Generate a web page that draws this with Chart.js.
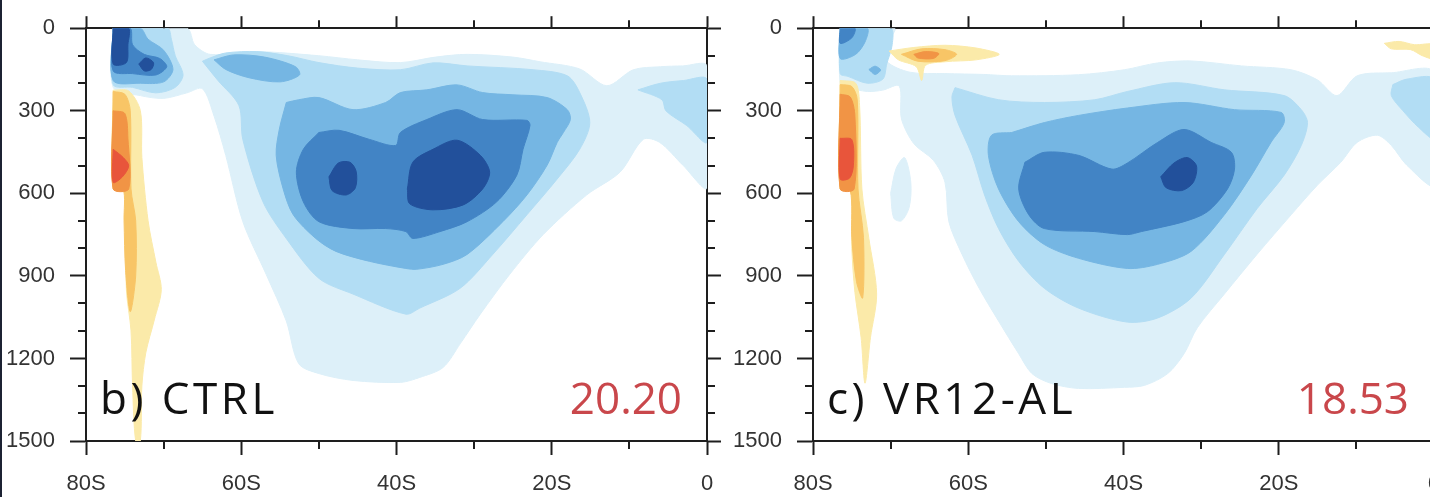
<!DOCTYPE html>
<html>
<head>
<meta charset="utf-8">
<script src="https://cdn.jsdelivr.net/npm/chart.js@4.4.0/dist/chart.umd.min.js"></script>
<style>
  html, body { margin: 0; padding: 0; background: #fff; width: 1430px; height: 497px; overflow: hidden; position: relative; }
  canvas { position: absolute; top: 0; }
  #edge { position: absolute; left: 0; top: 0; width: 2px; height: 497px; background: #1c2233; }
</style>
</head>
<body>
<canvas id="ctrl" width="760" height="497" style="left:0"></canvas>
<canvas id="vr" width="760" height="497" style="left:727px"></canvas>
<div id="edge"></div>
<script>
"use strict";

// axes
const latTicks = [-80, -60, -40, -20, 0];
const depthTicks = [0, 300, 600, 900, 1200, 1500];

// contour level colours, light to dark
const levelColors = {
    b1: "#ddf0f9", b2: "#b2ddf4", b3: "#75b6e3", b4: "#4284c5", b5: "#22509b",
    y1: "#fbeaa9", y2: "#f8c566", o1: "#f19445", r1: "#e8553b"
};

// ---- panel b) CTRL : contour outlines as [lat, depth] ----
const ctrlB1 = [[-76.5,0],[-67,0],[-66,60],[-64,95],[-58,85],[-50,100],[-45,115],[-39.5,125],[-35,105],[-30.9,95],
    [-25,105],[-21.5,122],[-16.4,148],[-12.9,209],[-9.5,151],[-6,140],[-3.1,137],[0,137],[0,580],[-3.1,498],
    [-6.1,415],[-8.2,404],[-11.2,523],[-15.5,606],[-21.1,750],[-25.4,894],[-29.2,1039],[-31.8,1147],[-34,1233],
    [-37,1269],[-39.5,1287],[-45.6,1280],[-50,1255],[-52.6,1219],[-54.2,1064],[-56.8,894],[-59.8,703],[-62,462],
    [-63.5,320],[-65,220],[-67,235],[-70,255],[-73,245],[-76.5,215]];
const ctrlB2Cluster = [[-76.5,0],[-69.5,0],[-69,40],[-68.5,100],[-67.5,170],[-68.5,215],[-71,235],[-74,215],[-76.5,205]];
const ctrlB2Main = [[-65,120],[-64,108],[-62,90],[-58,85],[-54,100],[-50,125],[-45,145],[-39.5,151],[-35.3,126],
    [-30.9,137],[-22.4,151],[-18,173],[-16.4,234],[-15.1,343],[-16.4,440],[-19.3,548],[-23.2,678],[-27.6,822],
    [-31.8,945],[-37,1017],[-38.8,1039],[-45.6,966],[-50,909],[-54.2,764],[-57.2,631],[-59.8,404],[-60.3,281],[-63,190]];
const ctrlB2East = [[-8.9,224],[-6,200],[-3,190],[0,185],[0,415],[-2.6,354],[-5.3,300],[-5.8,260]];
const ctrlB3Cluster = [[-76.5,0],[-73,0],[-72,40],[-70,80],[-68.8,150],[-70,195],[-73,200],[-76.5,190]];
const ctrlB3Streak = [[-63.5,115],[-61,97],[-57,105],[-53,140],[-52.5,170],[-55,195],[-59,180],[-62,150]];
const ctrlB3Main = [[-54.2,270],[-55.1,368],[-55.5,462],[-54.6,584],[-53.3,678],[-50.4,764],[-47.8,811],[-43.5,847],
    [-38.8,873],[-37.4,876],[-34,858],[-30.9,822],[-26.3,703],[-23.2,606],[-20.6,498],[-19.3,415],[-18.5,379],
    [-17.6,332],[-18,296],[-20.6,252],[-25,242],[-28.9,234],[-32.2,206],[-36.1,224],[-39.5,234],[-41.4,270],
    [-45.6,296],[-50,252],[-52.6,260]];
const ctrlB4Cluster = [[-76.5,0],[-74.3,0],[-74,60],[-72.5,95],[-70.5,110],[-69.6,140],[-71,170],[-74,165],[-76.5,155]];
const ctrlB4Main = [[-50,379],[-52,440],[-52.9,523],[-52,631],[-50,703],[-45.6,728],[-41.4,728],[-38.8,739],[-37.9,764],
    [-34.4,739],[-30.9,703],[-27.1,631],[-24.5,534],[-23.7,440],[-22.8,353],[-23.2,335],[-28.9,332],[-32.2,296],
    [-36.1,332],[-39.5,379],[-40.1,426],[-43.5,404],[-47.4,371]];
const ctrlB5Column = [[-76.5,0],[-74.5,0],[-74.6,60],[-74.8,125],[-76.5,130]];
const ctrlB5Dot = [[-73.2,130],[-72.3,108],[-71.3,125],[-71.6,150],[-72.5,155]];
const ctrlB5West = [[-48.7,540],[-47.5,490],[-46,487],[-45.2,520],[-45.3,580],[-46.5,606],[-48.3,590]];
const ctrlB5Core = [[-38.6,584],[-37.9,487],[-35.3,440],[-32.2,407],[-29.2,462],[-28,523],[-28.9,584],[-31.4,642],
    [-35.3,660],[-38.3,638]];
const ctrlY1 = [[-76.5,225],[-74.5,228],[-73,300],[-72.8,470],[-72,700],[-71,850],[-70.3,950],[-71.2,1060],[-72.3,1180],
    [-72.8,1300],[-73,1500],[-73.6,1500],[-74,1300],[-74.2,1100],[-74.8,950],[-75,600],[-76.5,584]];
const ctrlY2 = [[-76.5,230],[-75,240],[-74.3,300],[-74.2,584],[-73.6,700],[-73.6,900],[-74.3,1030],[-74.9,880],
    [-75.1,700],[-75.2,584],[-76.5,584]];
const ctrlO1 = [[-76.5,300],[-75,310],[-74.6,400],[-74.5,584],[-76.5,584]];
const ctrlR1 = [[-76.5,440],[-75.2,470],[-74.5,500],[-75.3,540],[-76.5,560]];

// ---- panel c) VR12-AL ----
const vrB1 = [[-76.5,0],[-69.5,0],[-70.5,60],[-70.5,120],[-67.5,160],[-63,165],[-58,168],[-54.4,173],[-45.8,169],
    [-39.9,151],[-35.6,126],[-31.3,119],[-24.8,137],[-18.4,151],[-15,188],[-12.5,245],[-9.9,173],[-5.5,162],[0,160],
    [0,570],[-3.5,498],[-5.5,426],[-7.3,389],[-9.9,415],[-12,487],[-15,570],[-18.4,678],[-22.8,822],[-27,966],
    [-30.5,1089],[-32.2,1183],[-34.3,1255],[-37.3,1298],[-39.9,1305],[-45.8,1309],[-49.3,1291],[-51.8,1255],
    [-53.5,1183],[-56.1,1064],[-58.6,945],[-60.8,822],[-62.5,703],[-63,560],[-64.5,480],[-67,420],[-68.6,330],
    [-68.9,210],[-71,225],[-73,230],[-75.5,215],[-76.5,200]];
const vrB1Lens = [[-70,600],[-69.3,510],[-68.2,470],[-67.4,560],[-67.6,650],[-68.6,700],[-69.6,690]];
const vrB2Cluster = [[-76.5,0],[-70,0],[-69.8,60],[-70.5,130],[-71,185],[-73,200],[-75.5,175],[-76.5,165]];
const vrB2Main = [[-61.7,216],[-62.1,250],[-61.7,317],[-59.5,462],[-57.9,606],[-56.1,728],[-53.5,847],[-50.2,945],
    [-45.8,1017],[-39.5,1068],[-35.6,1053],[-31.3,981],[-27,822],[-22.8,656],[-19.3,534],[-17.1,426],[-16.3,343],
    [-17.1,296],[-19.3,245],[-27,224],[-33.4,198],[-39.5,230],[-43.7,260],[-50.2,270],[-56.1,260]];
const vrB2East = [[-5.3,205],[-3.5,185],[0,185],[0,400],[-2,360],[-4,300],[-5.5,245]];
const vrB3Cluster = [[-76.5,0],[-73,0],[-73.3,50],[-74.5,95],[-76.5,110]];
const vrB3Dot = [[-72.8,150],[-72,138],[-71.3,152],[-72,168]];
const vrB3Main = [[-54.4,379],[-57,389],[-57.4,462],[-56.1,584],[-53.5,703],[-50.2,786],[-45.8,836],[-39.5,873],
    [-35.6,858],[-31.3,811],[-27,678],[-23.5,534],[-21,415],[-19.3,343],[-19.7,306],[-25.7,296],[-32.2,270],
    [-39.5,290],[-45.8,317],[-50.2,343]];
const vrB4Cluster = [[-76.5,0],[-74.6,0],[-75,35],[-76.5,55]];
const vrB4Main = [[-52.7,487],[-53.5,584],[-52.2,678],[-50.2,728],[-43.7,739],[-39.5,750],[-37.7,739],[-32.2,703],
    [-29.2,667],[-26.6,584],[-25.7,512],[-26.1,451],[-28.7,415],[-32.2,368],[-35.6,415],[-39.5,490],[-41.5,512],
    [-45.8,462],[-50.2,451]];
const vrB5Core = [[-35.2,540],[-33.5,490],[-31.8,470],[-30.6,500],[-31,560],[-32.5,590],[-34.5,580]];
const vrY1Streak = [[-70.2,83],[-67,70],[-63,62],[-59,72],[-56,95],[-59,115],[-63,122],[-65.5,135],[-66,190],
    [-66.7,140],[-69,115]];
const vrY2Streak = [[-68.6,95],[-66,75],[-63,78],[-61.5,95],[-63,118],[-66.5,120]];
const vrO1Streak = [[-67,95],[-65.5,85],[-63.8,92],[-64.5,110],[-66.5,108]];
const vrY1Column = [[-76.5,190],[-74.5,200],[-74,280],[-73.7,584],[-72.8,764],[-71.8,966],[-72.6,1125],[-73.3,1290],
    [-73.8,1125],[-74.6,960],[-75,800],[-75.1,590],[-76.5,584]];
const vrY2Column = [[-76.5,205],[-75,212],[-74.3,260],[-74.2,584],[-73.5,760],[-73.6,980],[-74.4,920],[-75,760],
    [-75.2,590],[-76.5,584]];
const vrO1Column = [[-76.5,240],[-75.2,250],[-74.6,320],[-74.7,584],[-76.5,584]];
const vrR1Column = [[-76.5,400],[-75,405],[-74.8,500],[-75.3,545],[-76.5,548]];
const vrY1East = [[-6.4,55],[-4.5,48],[-2.5,60],[0,60],[0,110],[-1.5,100],[-3,78],[-5.5,75]];

// bottom layer first
const ctrlLayers = [
    [ctrlB1, "b1"], [ctrlB2Cluster, "b2"], [ctrlB2Main, "b2"], [ctrlB2East, "b2"],
    [ctrlB3Cluster, "b3"], [ctrlB3Streak, "b3"], [ctrlB3Main, "b3"],
    [ctrlB4Cluster, "b4"], [ctrlB4Main, "b4"],
    [ctrlB5Column, "b5"], [ctrlB5Dot, "b5"], [ctrlB5West, "b5"], [ctrlB5Core, "b5"],
    [ctrlY1, "y1"], [ctrlY2, "y2"], [ctrlO1, "o1"], [ctrlR1, "r1"]
];
const vrLayers = [
    [vrB1, "b1"], [vrB1Lens, "b1"], [vrB2Cluster, "b2"], [vrB2Main, "b2"], [vrB2East, "b2"],
    [vrB3Cluster, "b3"], [vrB3Dot, "b3"], [vrB3Main, "b3"],
    [vrB4Cluster, "b4"], [vrB4Main, "b4"], [vrB5Core, "b5"],
    [vrY1Streak, "y1"], [vrY2Streak, "y2"], [vrO1Streak, "o1"],
    [vrY1Column, "y1"], [vrY2Column, "y2"], [vrO1Column, "o1"], [vrR1Column, "r1"], [vrY1East, "y1"]
];

const AXIS = "#1e1e1e";
const TICK_FONT = { family: "'Liberation Sans', Arial, sans-serif", size: 22 };

// minor ticks every 10 deg / 100 m on all four sides
const minorTicks = {
    id: "minorTicks",
    afterDraw(chart) {
        const ctx = chart.ctx, a = chart.chartArea;
        const sx = chart.scales.x, sy = chart.scales.y;
        ctx.save();
        ctx.strokeStyle = AXIS;
        ctx.lineWidth = 2;
        ctx.beginPath();
        for (let v = -70; v < 0; v += 20) {
            const px = Math.round(sx.getPixelForValue(v));
            ctx.moveTo(px, a.bottom); ctx.lineTo(px, a.bottom + 8);
            ctx.moveTo(px, a.top); ctx.lineTo(px, a.top - 8);
        }
        for (let d = 100; d < 1500; d += 100) {
            if (d % 300 === 0) continue;
            const py = Math.round(sy.getPixelForValue(d));
            ctx.moveTo(a.left, py); ctx.lineTo(a.left - 8, py);
            ctx.moveTo(a.right, py); ctx.lineTo(a.right + 8, py);
        }
        ctx.stroke();
        ctx.restore();
    }
};

const panelText = {
    id: "panelText",
    afterDraw(chart, args, opts) {
        const ctx = chart.ctx, a = chart.chartArea;
        ctx.save();
        ctx.font = "44px 'Open Sans', sans-serif";
        ctx.textBaseline = "alphabetic";
        ctx.letterSpacing = "3.5px";
        ctx.fillStyle = "#111";
        ctx.textAlign = "left";
        ctx.fillText(opts.name, a.left + 14, a.top + 386);
        ctx.letterSpacing = "0px";
        ctx.fillStyle = "#c9474b";
        ctx.textAlign = "right";
        ctx.fillText(opts.score, a.left + 596, a.top + 386);
        ctx.restore();
    }
};

function makeDatasets(layers) {
    return layers.map(([pts, lvl], i) => ({
        data: pts.concat([pts[0]]).map(p => ({ x: p[0], y: p[1] })),
        showLine: true,
        fill: "shape",
        tension: 0.3,
        pointRadius: 0,
        borderWidth: 1,
        borderColor: levelColors[lvl],
        backgroundColor: levelColors[lvl],
        order: layers.length - i
    }));
}

function gridOpts(len) {
    return { drawOnChartArea: false, drawTicks: true, tickLength: len, tickWidth: 2, tickColor: AXIS };
}

function makeChart(id, layers, name, score) {
    return new Chart(document.getElementById(id), {
        type: "scatter",
        data: { datasets: makeDatasets(layers) },
        options: {
            responsive: false,
            animation: false,
            events: [],
            layout: { padding: 0 },
            plugins: {
                legend: { display: false },
                tooltip: { enabled: false },
                panelText: { name: name, score: score }
            },
            scales: {
                x: {
                    type: "linear", position: "bottom", min: -80, max: 0,
                    afterBuildTicks: s => { s.ticks = latTicks.map(v => ({ value: v })); },
                    ticks: {
                        autoSkip: false, maxRotation: 0, padding: 16, color: "#333", font: TICK_FONT,
                        callback: v => v === 0 ? "0" : Math.abs(v) + "S"
                    },
                    grid: gridOpts(14),
                    border: { color: AXIS, width: 2 },
                    afterFit: s => { s.height = 56; }
                },
                xTop: {
                    type: "linear", position: "top", min: -80, max: 0,
                    afterBuildTicks: s => { s.ticks = latTicks.map(v => ({ value: v })); },
                    ticks: { display: false },
                    grid: gridOpts(12),
                    border: { color: AXIS, width: 2 },
                    afterFit: s => { s.height = 25; }
                },
                y: {
                    type: "linear", position: "left", reverse: true, min: 0, max: 1500,
                    afterBuildTicks: s => { s.ticks = depthTicks.map(v => ({ value: v })); },
                    ticks: { autoSkip: false, padding: 15, color: "#333", font: TICK_FONT, callback: v => String(v) },
                    grid: gridOpts(16),
                    border: { color: AXIS, width: 2 },
                    afterFit: s => { s.width = 86; }
                },
                yRight: {
                    type: "linear", position: "right", reverse: true, min: 0, max: 1500,
                    afterBuildTicks: s => { s.ticks = depthTicks.map(v => ({ value: v })); },
                    ticks: { display: false },
                    grid: gridOpts(14),
                    border: { color: AXIS, width: 2 },
                    afterFit: s => { s.width = 53; }
                }
            }
        },
        plugins: [minorTicks, panelText]
    });
}

makeChart("ctrl", ctrlLayers, "b) CTRL", "20.20");
makeChart("vr", vrLayers, "c) VR12-AL", "18.53");
</script>
</body>
</html>
